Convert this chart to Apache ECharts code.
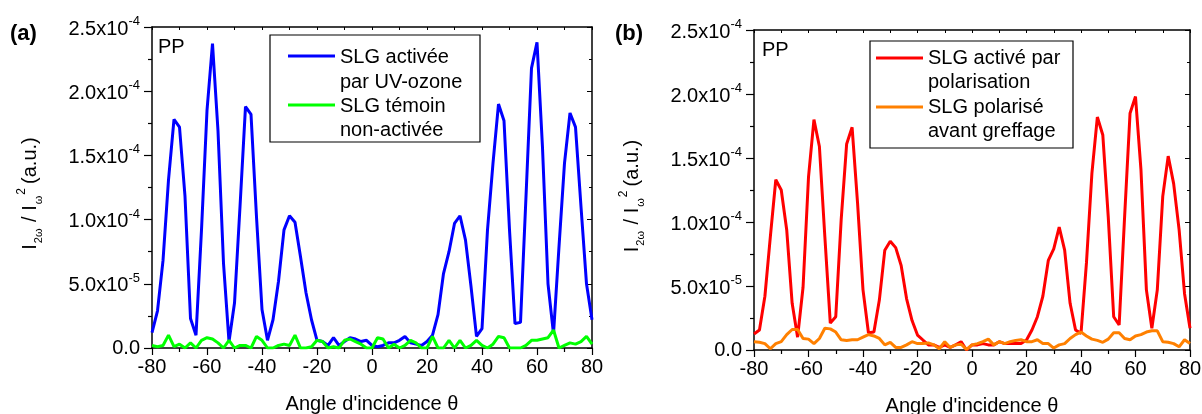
<!DOCTYPE html>
<html>
<head>
<meta charset="utf-8">
<script src="https://cdn.jsdelivr.net/npm/echarts@6/dist/echarts.min.js"></script>
<style>
html,body{margin:0;padding:0;background:#fff;}
#chart{width:1202px;height:414px;}
</style>
</head>
<body>
<div id="chart"></div>
<script>
// Angle of incidence (degrees)
var angles = [-80,-78,-76,-74,-72,-70,-68,-66,-64,-62,-60,-58,-56,-54,-52,-50,-48,-46,-44,-42,-40,-38,-36,-34,-32,-30,-28,-26,-24,-22,-20,-18,-16,-14,-12,-10,-8,-6,-4,-2,0,2,4,6,8,10,12,14,16,18,20,22,24,26,28,30,32,34,36,38,40,42,44,46,48,50,52,54,56,58,60,62,64,66,68,70,72,74,76,78,80];

// (a) SLG activée par UV-ozone
var uvOzone = [1.2e-5,2.9e-5,6.8e-5,13.1e-5,17.8e-5,17.2e-5,11.8e-5,2.3e-5,1.0e-5,9.2e-5,18.5e-5,23.7e-5,16.9e-5,6.6e-5,0.5e-5,3.5e-5,11.0e-5,18.8e-5,18.2e-5,10.2e-5,3.0e-5,0.6e-5,2.2e-5,5.2e-5,9.2e-5,10.3e-5,9.8e-5,7.1e-5,4.3e-5,2.2e-5,0.6e-5,0.5e-5,0.2e-5,0.8e-5,0.2e-5,0.5e-5,0.8e-5,0.7e-5,0.5e-5,0.6e-5,0.2e-5,0.1e-5,0.2e-5,0.4e-5,0.4e-5,0.6e-5,0.9e-5,0.4e-5,0.3e-5,0.2e-5,0.5e-5,1.0e-5,2.6e-5,5.8e-5,7.5e-5,9.7e-5,10.3e-5,8.4e-5,4.8e-5,0.9e-5,1.5e-5,9.2e-5,14.4e-5,19.0e-5,17.7e-5,9.2e-5,1.9e-5,2.0e-5,11.8e-5,21.8e-5,23.8e-5,15.6e-5,5.0e-5,1.1e-5,7.9e-5,14.4e-5,18.3e-5,17.2e-5,11.0e-5,5.0e-5,2.2e-5];

// (a) SLG témoin non-activée
var temoin = [0.2e-5,0.1e-5,0.2e-5,1.0e-5,0.1e-5,0.3e-5,0.0,0.4e-5,0.0,0.6e-5,0.8e-5,0.7e-5,0.4e-5,0.0,0.6e-5,0.0,0.2e-5,0.2e-5,0.0,0.9e-5,0.6e-5,0.0,0.0,0.2e-5,0.3e-5,0.2e-5,1.0e-5,0.0,0.0,0.1e-5,0.6e-5,0.5e-5,0.0,0.1e-5,0.0,0.6e-5,0.7e-5,0.5e-5,0.3e-5,0.0,0.0,0.8e-5,0.7e-5,0.0,0.3e-5,0.0,0.2e-5,0.6e-5,0.4e-5,0.0,0.0,0.9e-5,0.0,0.0,0.6e-5,0.0,0.6e-5,0.0,0.2e-5,0.6e-5,0.2e-5,0.0,0.3e-5,0.9e-5,0.8e-5,0.0,0.0,0.0,0.2e-5,0.6e-5,0.6e-5,0.7e-5,0.8e-5,1.4e-5,0.0,0.2e-5,0.4e-5,0.3e-5,0.5e-5,0.9e-5,0.3e-5];

// (b) SLG activé par polarisation
var polarisation = [1.25e-5,1.56e-5,4.2e-5,8.85e-5,13.3e-5,12.5e-5,9.4e-5,3.65e-5,1.0e-5,4.9e-5,13.5e-5,18.0e-5,15.9e-5,8.85e-5,2.1e-5,2.6e-5,10.2e-5,16.1e-5,17.4e-5,11.5e-5,4.7e-5,1.35e-5,1.4e-5,3.9e-5,7.8e-5,8.5e-5,8.0e-5,6.6e-5,4.0e-5,2.3e-5,1.17e-5,0.78e-5,0.4e-5,0.4e-5,0.2e-5,0.4e-5,0.2e-5,0.4e-5,0.65e-5,0.0,0.4e-5,0.4e-5,0.5e-5,0.4e-5,0.4e-5,0.65e-5,0.5e-5,0.5e-5,0.5e-5,0.5e-5,0.78e-5,1.56e-5,2.6e-5,4.2e-5,7.0e-5,7.9e-5,9.6e-5,7.8e-5,3.65e-5,1.56e-5,1.3e-5,6.8e-5,13.8e-5,18.2e-5,16.8e-5,10.4e-5,2.6e-5,1.95e-5,10.4e-5,18.5e-5,19.8e-5,14.1e-5,4.7e-5,1.7e-5,4.7e-5,12.0e-5,15.15e-5,13.0e-5,9.4e-5,4.4e-5,1.7e-5];

// (b) SLG polarisé avant greffage
var avantGreffage = [0.65e-5,0.6e-5,0.5e-5,0.1e-5,0.5e-5,0.65e-5,1.2e-5,1.6e-5,1.6e-5,0.9e-5,0.85e-5,0.5e-5,0.9e-5,1.7e-5,1.65e-5,1.4e-5,0.8e-5,0.75e-5,0.8e-5,0.8e-5,1.0e-5,1.2e-5,1.1e-5,0.9e-5,0.4e-5,0.6e-5,0.2e-5,0.2e-5,0.4e-5,0.65e-5,0.5e-5,0.5e-5,0.55e-5,0.4e-5,0.1e-5,0.65e-5,0.2e-5,0.4e-5,0.45e-5,0.05e-5,0.4e-5,0.5e-5,0.65e-5,0.85e-5,0.4e-5,0.65e-5,0.5e-5,0.65e-5,0.75e-5,0.8e-5,0.65e-5,0.65e-5,0.8e-5,0.5e-5,0.5e-5,0.15e-5,0.4e-5,0.5e-5,0.9e-5,1.2e-5,1.4e-5,1.1e-5,0.85e-5,0.75e-5,0.6e-5,0.85e-5,1.35e-5,1.35e-5,0.9e-5,0.8e-5,1.1e-5,1.2e-5,1.4e-5,1.5e-5,1.5e-5,0.65e-5,0.6e-5,0.5e-5,0.25e-5,0.8e-5,0.5e-5];

var xTicks = {min: -80, max: 80, interval: 20};
var yTicks = {min: 0, max: 2.5e-4, interval: 5e-5};

var FF = '"Liberation Sans", Arial, sans-serif';

function pairs(ys){ return angles.map(function(a,i){ return [a, ys[i]]; }); }

function yFmt(v){
  if (Math.abs(v) < 1e-12) return '{z|0.0}';
  var e = Math.floor(Math.log10(v) + 1e-9);
  var m = v / Math.pow(10, e);
  return '{m|' + m.toFixed(1) + 'x10}{e|' + e + '}';
}

function xBottom(g){
  return {
    type:'value', gridIndex:g, position:'bottom', min:xTicks.min, max:xTicks.max, interval:xTicks.interval,
    axisLine:{onZero:false, lineStyle:{color:'#000', width:1.5}},
    axisTick:{inside:false, length:7, lineStyle:{color:'#000', width:1.2}},
    minorTick:{show:true, splitNumber:2, length:4, lineStyle:{color:'#000', width:1.2}},
    splitLine:{show:false},
    axisLabel:{fontSize:20, color:'#000', margin:9, fontFamily:FF},
    name:"Angle d'incidence θ", nameLocation:'middle', nameGap:46,
    nameTextStyle:{fontSize:20, color:'#000', fontFamily:FF}
  };
}
function xTop(g){
  return {
    type:'value', gridIndex:g, position:'top', min:xTicks.min, max:xTicks.max, interval:xTicks.interval,
    axisLine:{onZero:false, lineStyle:{color:'#000', width:1.5}},
    axisTick:{inside:true, length:3, lineStyle:{color:'#000', width:1}},
    minorTick:{show:true, splitNumber:2, length:3, lineStyle:{color:'#000', width:1}},
    splitLine:{show:false}, axisLabel:{show:false}
  };
}
function yLeft(g){
  return {
    type:'value', gridIndex:g, position:'left', min:yTicks.min, max:yTicks.max, interval:yTicks.interval,
    axisLine:{onZero:false, lineStyle:{color:'#000', width:1.5}},
    axisTick:{inside:false, length:8, lineStyle:{color:'#000', width:1.2}},
    minorTick:{show:true, splitNumber:2, length:4, lineStyle:{color:'#000', width:1.2}},
    splitLine:{show:false},
    axisLabel:{formatter:yFmt, margin:12, rich:{
      z:{fontSize:20, color:'#000', fontFamily:FF, lineHeight:24, verticalAlign:'middle'},
      m:{fontSize:20, color:'#000', fontFamily:FF, lineHeight:24, verticalAlign:'bottom'},
      e:{fontSize:13, color:'#000', fontFamily:FF, lineHeight:18, verticalAlign:'top', padding:[0,0,16,0]}
    }},
    name:'{t|I}{s|2ω}{t| / I}{s|ω}{p|2}{t|(a.u.)}', nameLocation:'middle', nameGap:108, nameRotate:90,
    nameTextStyle:{padding:[0,12,0,0], rich:{
      t:{fontSize:20, color:'#000', fontFamily:FF, lineHeight:28, verticalAlign:'middle'},
      s:{fontSize:11, color:'#000', fontFamily:FF, lineHeight:12, verticalAlign:'bottom', padding:[0,1,0,1]},
      p:{fontSize:12, color:'#000', fontFamily:FF, lineHeight:12, verticalAlign:'top', padding:[0,4,0,0]}
    }}
  };
}
function yRight(g){
  return {
    type:'value', gridIndex:g, position:'right', min:yTicks.min, max:yTicks.max, interval:yTicks.interval,
    axisLine:{onZero:false, lineStyle:{color:'#000', width:1.5}},
    axisTick:{inside:true, length:5, lineStyle:{color:'#000', width:1}},
    minorTick:{show:true, splitNumber:2, length:3, lineStyle:{color:'#000', width:1}},
    splitLine:{show:false}, axisLabel:{show:false}
  };
}
function line(name, data, color, xi, yi){
  return {type:'line', name:name, xAxisIndex:xi, yAxisIndex:yi, data:pairs(data),
    showSymbol:false, symbol:'none', lineStyle:{color:color, width:3}, itemStyle:{color:color}, z:3};
}
function txt(s, x, y, size, weight){
  return {type:'text', z:100, style:{text:s, x:x, y:y, font:(weight||'normal')+' '+size+'px '+FF, fill:'#000', textAlign:'left', textVerticalAlign:'middle'}};
}

var chart = echarts.init(document.getElementById('chart'), null, {renderer:'canvas'});
chart.setOption({
  animation:false,
  backgroundColor:'#fff',
  grid:[
    {left:152, top:27, width:440, height:321, containLabel:false, outerBoundsMode:'none'},
    {left:754, top:30, width:436, height:320, containLabel:false, outerBoundsMode:'none'}
  ],
  xAxis:[xBottom(0), xTop(0), xBottom(1), xTop(1)],
  yAxis:[yLeft(0), yRight(0), yLeft(1), yRight(1)],
  series:[
    line('SLG activée par UV-ozone', uvOzone, '#0000ff', 0, 0),
    line('SLG témoin non-activée', temoin, '#00ff00', 0, 0),
    line('SLG activé par polarisation', polarisation, '#ff0000', 2, 2),
    line('SLG polarisé avant greffage', avantGreffage, '#ff8000', 2, 2)
  ],
  graphic:[
    txt('(a)', 10, 34, 22, 'bold'),
    txt('(b)', 615, 34, 22, 'bold'),
    txt('PP', 158, 47, 20),
    txt('PP', 762, 50, 20),
    {type:'rect', z:90, shape:{x:270, y:35, width:210, height:107}, style:{fill:'#fff', stroke:'#000', lineWidth:1.2}},
    {type:'line', z:95, shape:{x1:288, y1:56, x2:335, y2:56}, style:{stroke:'#0000ff', lineWidth:3}},
    {type:'line', z:95, shape:{x1:288, y1:105, x2:335, y2:105}, style:{stroke:'#00ff00', lineWidth:3}},
    txt('SLG activée', 340, 57, 20),
    txt('par UV-ozone', 340, 82, 20),
    txt('SLG témoin', 340, 106, 20),
    txt('non-activée', 340, 130, 20),
    {type:'rect', z:90, shape:{x:870, y:41, width:203, height:107}, style:{fill:'#fff', stroke:'#000', lineWidth:1.2}},
    {type:'line', z:95, shape:{x1:876, y1:58, x2:923, y2:58}, style:{stroke:'#ff0000', lineWidth:3}},
    {type:'line', z:95, shape:{x1:876, y1:107, x2:923, y2:107}, style:{stroke:'#ff8000', lineWidth:3}},
    txt('SLG activé par', 928, 58, 20),
    txt('polarisation', 928, 82, 20),
    txt('SLG polarisé', 928, 107, 20),
    txt('avant greffage', 928, 131, 20)
  ]
});
</script>
</body>
</html>
